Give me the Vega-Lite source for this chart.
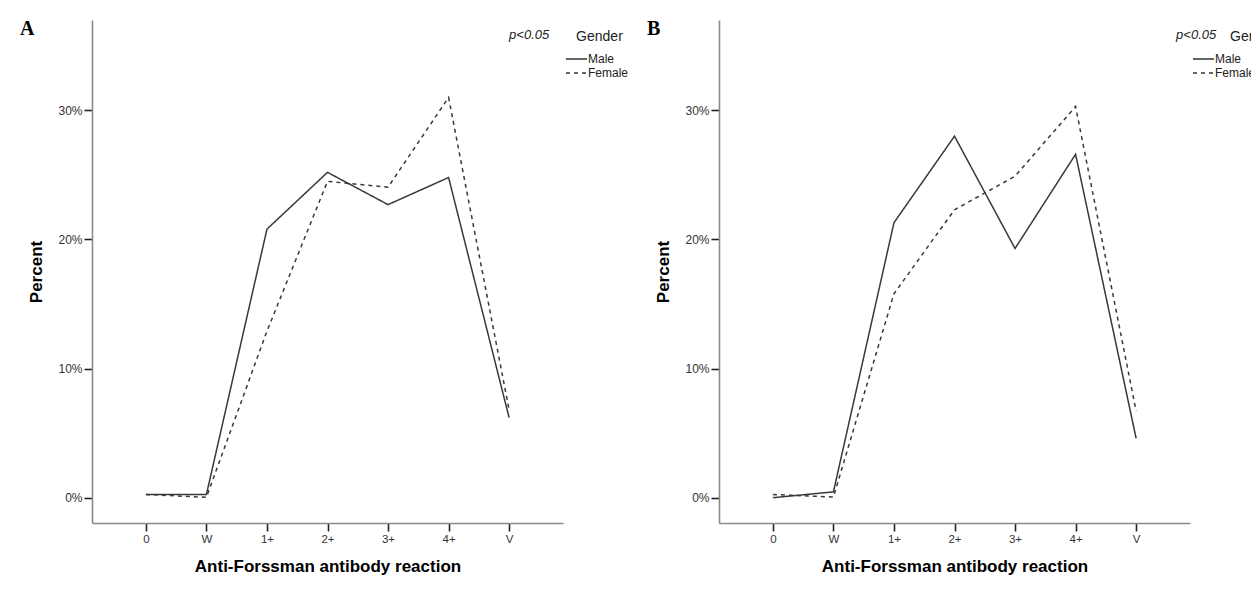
{
  "$schema": "https://vega.github.io/schema/vega-lite/v6.json",
  "background": "white",
  "padding": {"left": 20, "top": 19, "right": 0, "bottom": 0},
  "bounds": "flush",
  "spacing": 156,
  "datasets": {
    "d": [
      {"panel": "A", "reaction": "0", "gender": "Male", "pct": 0.0025},
      {"panel": "A", "reaction": "W", "gender": "Male", "pct": 0.0025},
      {"panel": "A", "reaction": "1+", "gender": "Male", "pct": 0.208},
      {"panel": "A", "reaction": "2+", "gender": "Male", "pct": 0.252},
      {"panel": "A", "reaction": "3+", "gender": "Male", "pct": 0.227},
      {"panel": "A", "reaction": "4+", "gender": "Male", "pct": 0.248},
      {"panel": "A", "reaction": "V", "gender": "Male", "pct": 0.062},
      {"panel": "A", "reaction": "0", "gender": "Female", "pct": 0.0025},
      {"panel": "A", "reaction": "W", "gender": "Female", "pct": 0.0003},
      {"panel": "A", "reaction": "1+", "gender": "Female", "pct": 0.129},
      {"panel": "A", "reaction": "2+", "gender": "Female", "pct": 0.245},
      {"panel": "A", "reaction": "3+", "gender": "Female", "pct": 0.2405},
      {"panel": "A", "reaction": "4+", "gender": "Female", "pct": 0.31},
      {"panel": "A", "reaction": "V", "gender": "Female", "pct": 0.068},
      {"panel": "B", "reaction": "0", "gender": "Male", "pct": 0.0},
      {"panel": "B", "reaction": "W", "gender": "Male", "pct": 0.0045},
      {"panel": "B", "reaction": "1+", "gender": "Male", "pct": 0.213},
      {"panel": "B", "reaction": "2+", "gender": "Male", "pct": 0.28},
      {"panel": "B", "reaction": "3+", "gender": "Male", "pct": 0.193},
      {"panel": "B", "reaction": "4+", "gender": "Male", "pct": 0.266},
      {"panel": "B", "reaction": "V", "gender": "Male", "pct": 0.046},
      {"panel": "B", "reaction": "0", "gender": "Female", "pct": 0.0025},
      {"panel": "B", "reaction": "W", "gender": "Female", "pct": 0.0005},
      {"panel": "B", "reaction": "1+", "gender": "Female", "pct": 0.158},
      {"panel": "B", "reaction": "2+", "gender": "Female", "pct": 0.223},
      {"panel": "B", "reaction": "3+", "gender": "Female", "pct": 0.249},
      {"panel": "B", "reaction": "4+", "gender": "Female", "pct": 0.303},
      {"panel": "B", "reaction": "V", "gender": "Female", "pct": 0.067}
    ]
  },
  "config": {
    "view": {"stroke": null},
    "font": "Liberation Sans",
    "axis": {
      "grid": false,
      "domainColor": "#8a8a8a",
      "domainWidth": 1.6,
      "tickColor": "#222222",
      "tickWidth": 1.6,
      "tickSize": 8,
      "labelFont": "Liberation Sans",
      "labelColor": "#333333",
      "labelPadding": 2,
      "titleFont": "Liberation Sans",
      "titleFontSize": 17,
      "titleFontWeight": "bold",
      "titleColor": "#000000"
    },
    "axisX": {"labelFontSize": 11.5},
    "axisY": {"labelFontSize": 12},
    "legend": {
      "orient": "none",
      "legendX": 478.5,
      "legendY": 33,
      "title": null,
      "symbolType": "M-2,0H2",
      "symbolSize": 110.25,
      "symbolStrokeWidth": 1.4,
      "symbolStrokeColor": "#333333",
      "labelFont": "Liberation Sans",
      "labelFontSize": 12,
      "labelColor": "#222222",
      "labelOffset": 5.5,
      "rowPadding": 2
    }
  },
  "hconcat": [
    {
      "width": 471,
      "height": 503,
      "title": {"text": "A", "anchor": "start", "frame": "group", "dx": -72, "dy": 19, "offset": 0, "font": "Liberation Serif", "fontSize": 20, "fontWeight": "bold", "color": "#000000"},
      "layer": [
        {
          "data": {"name": "d"},
          "transform": [{"filter": "datum.panel === 'A'"}],
          "mark": {"type": "line", "color": "#383838", "strokeWidth": 1.5},
          "encoding": {
            "x": {"field": "reaction", "type": "ordinal", "scale": {"type": "point", "domain": ["0", "W", "1+", "2+", "3+", "4+", "V"], "padding": 0.89}, "axis": {"title": "Anti-Forssman antibody reaction", "labelAngle": 0, "titlePadding": 14}},
            "y": {"field": "pct", "type": "quantitative", "scale": {"domain": [-0.0196, 0.37], "nice": false, "zero": false}, "axis": {"title": "Percent", "values": [0, 0.1, 0.2, 0.3], "format": ".0%", "titlePadding": 12}},
            "strokeDash": {"field": "gender", "type": "nominal", "scale": {"domain": ["Male", "Female"], "range": [[1, 0], [4, 4]]}}
          }
        },
        {
          "data": {"values": [{"note": "p<0.05"}]},
          "mark": {"type": "text", "align": "left", "baseline": "middle", "fontStyle": "italic", "fontSize": 13, "color": "#222222"},
          "encoding": {"x": {"datum": "V"}, "y": {"datum": 0.3585}, "text": {"field": "note"}}
        },
        {
          "data": {"values": [{"note": "Gender"}]},
          "mark": {"type": "text", "align": "left", "baseline": "middle", "fontSize": 14, "color": "#222222", "dx": 67},
          "encoding": {"x": {"datum": "V"}, "y": {"datum": 0.357}, "text": {"field": "note"}}
        }
      ]
    },
    {
      "width": 471,
      "height": 503,
      "title": {"text": "B", "anchor": "start", "frame": "group", "dx": -72, "dy": 19, "offset": 0, "font": "Liberation Serif", "fontSize": 20, "fontWeight": "bold", "color": "#000000"},
      "layer": [
        {
          "data": {"name": "d"},
          "transform": [{"filter": "datum.panel === 'B'"}],
          "mark": {"type": "line", "color": "#383838", "strokeWidth": 1.5},
          "encoding": {
            "x": {"field": "reaction", "type": "ordinal", "scale": {"type": "point", "domain": ["0", "W", "1+", "2+", "3+", "4+", "V"], "padding": 0.89}, "axis": {"title": "Anti-Forssman antibody reaction", "labelAngle": 0, "titlePadding": 14}},
            "y": {"field": "pct", "type": "quantitative", "scale": {"domain": [-0.0196, 0.37], "nice": false, "zero": false}, "axis": {"title": "Percent", "values": [0, 0.1, 0.2, 0.3], "format": ".0%", "titlePadding": 12}},
            "strokeDash": {"field": "gender", "type": "nominal", "scale": {"domain": ["Male", "Female"], "range": [[1, 0], [4, 4]]}}
          }
        },
        {
          "data": {"values": [{"note": "p<0.05"}]},
          "mark": {"type": "text", "align": "left", "baseline": "middle", "fontStyle": "italic", "fontSize": 13, "color": "#222222", "dx": 40},
          "encoding": {"x": {"datum": "V"}, "y": {"datum": 0.3585}, "text": {"field": "note"}}
        },
        {
          "data": {"values": [{"note": "Gender"}]},
          "mark": {"type": "text", "align": "left", "baseline": "middle", "fontSize": 14, "color": "#222222", "dx": 94},
          "encoding": {"x": {"datum": "V"}, "y": {"datum": 0.357}, "text": {"field": "note"}}
        }
      ]
    }
  ],
  "resolve": {"scale": {"x": "independent", "y": "independent", "strokeDash": "independent"}, "legend": {"strokeDash": "independent"}}
}
